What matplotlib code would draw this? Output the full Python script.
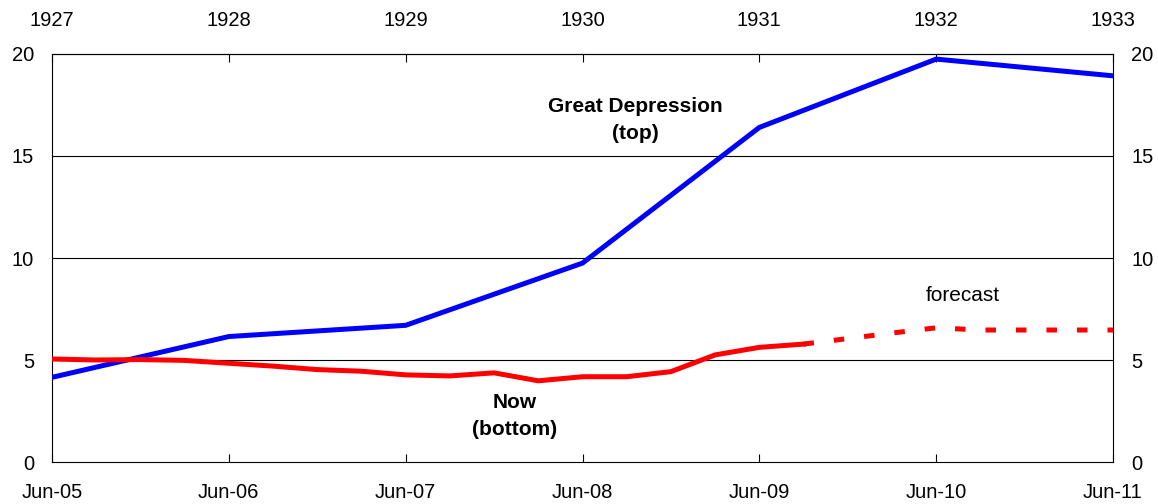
import matplotlib
matplotlib.use("Agg")
import matplotlib.pyplot as plt

plt.rcParams['font.family'] = ['Liberation Sans', 'DejaVu Sans']

# quarter index from Jun-05 (0) to Jun-11 (24)
bottom_labels = ["Jun-05", "Jun-06", "Jun-07", "Jun-08", "Jun-09", "Jun-10", "Jun-11"]
top_labels = ["1927", "1928", "1929", "1930", "1931", "1932", "1933"]
label_pos = [0, 4, 8, 12, 16, 20, 24]

# Great Depression (annual)
gd_x = [0, 4, 8, 12, 16, 20, 24]
gd_y = [4.15, 6.15, 6.7, 9.75, 16.4, 19.75, 18.93]

# Now (quarterly, actual)
now_x = list(range(0, 18))
now_y = [5.05, 5.0, 5.02, 4.98, 4.84, 4.7, 4.53, 4.45, 4.27, 4.22, 4.37, 3.98,
         4.18, 4.18, 4.43, 5.25, 5.62, 5.78]

# Now (forecast)
fc_x = [17, 18, 19, 20, 21, 22, 23, 24]
fc_y = [5.78, 6.05, 6.32, 6.58, 6.47, 6.47, 6.47, 6.47]

fig = plt.figure(figsize=(11.58, 5.04), dpi=100)
ax = fig.add_axes([52/1158, 42/504, (1113-52)/1158, (462-54)/504])

for v in [5, 10, 15]:
    ax.axhline(v, color='black', lw=0.8, zorder=1)

ax.plot(gd_x, gd_y, color='#0000FF', lw=3.6, solid_joinstyle='miter', zorder=3)
ax.plot(now_x, now_y, color='#FF0000', lw=3.6, solid_joinstyle='miter', zorder=4)
ax.plot(fc_x, fc_y, color='#FF0000', lw=3.6, dashes=(2.1, 4.0), dash_capstyle='butt', zorder=4)

ax.set_xlim(0, 24)
ax.set_ylim(0, 20)
ax.set_yticks([0, 5, 10, 15, 20])
ax.tick_params(axis='y', length=0, labelsize=14.5, pad=13, labelright=True, right=False)

ax.set_xticks(label_pos)
ax.set_xticklabels(bottom_labels)
ax.tick_params(axis='x', direction='in', length=6, width=0.8, labelsize=14.5, pad=15)

secax = ax.secondary_xaxis('top')
secax.set_xticks(label_pos)
secax.set_xticklabels(top_labels)
secax.tick_params(direction='in', length=6, width=0.8, labelsize=14.5, pad=17)
secax.spines['top'].set_linewidth(0.8)

for s in ax.spines.values():
    s.set_linewidth(0.8)
    s.set_color('black')

ax.text(13.2, 16.76, "Great Depression\n(top)", ha='center', va='center',
        fontsize=15, fontweight='bold', linespacing=1.5)
ax.text(10.47, 2.25, "Now\n(bottom)", ha='center', va='center',
        fontsize=15, fontweight='bold', linespacing=1.5)
ax.text(20.6, 8.14, "forecast", ha='center', va='center', fontsize=15)

fig.savefig("out.png", dpi=100)
